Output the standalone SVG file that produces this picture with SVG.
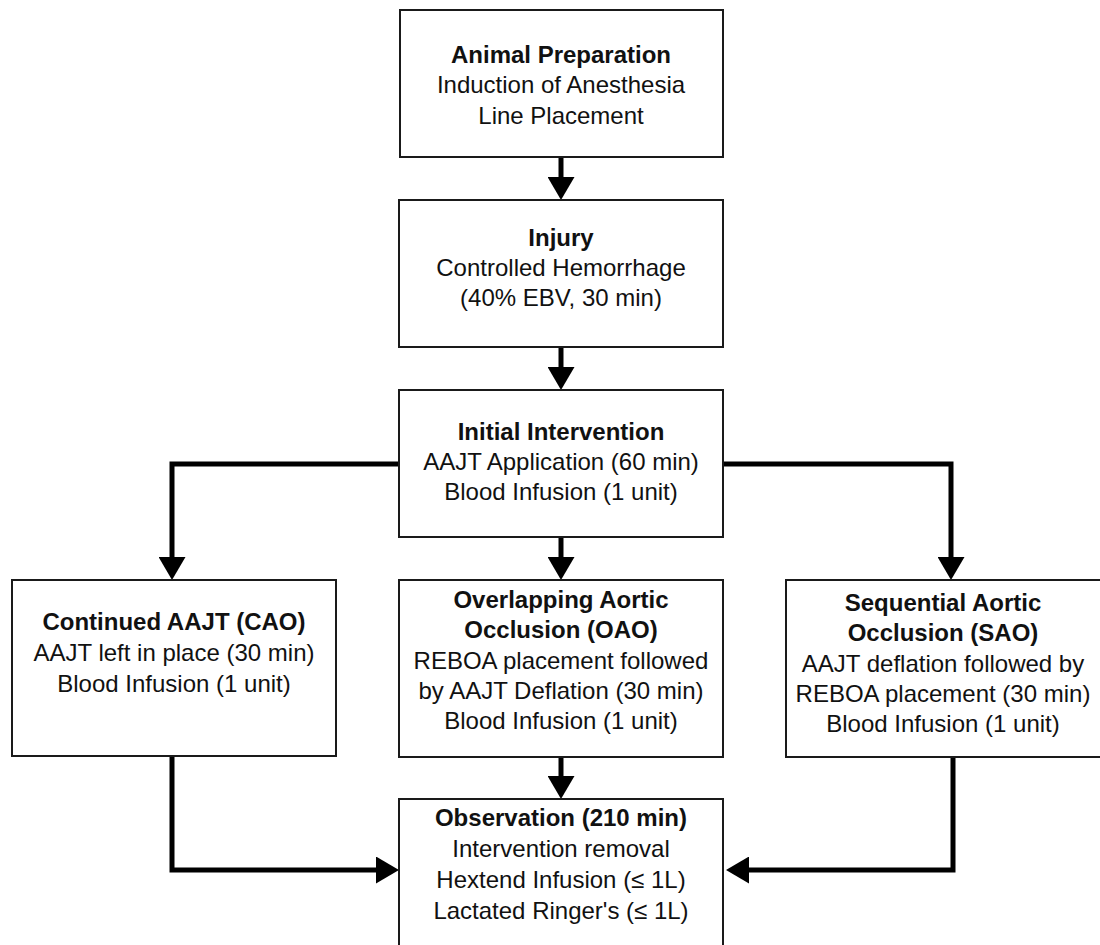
<svg xmlns="http://www.w3.org/2000/svg" width="1100" height="945" viewBox="0 0 1100 945">
<style>
.box{fill:#ffffff;stroke:#1a1a1a;stroke-width:2}
.t{font-family:"Liberation Sans",Arial,sans-serif;font-size:24px;fill:#111;text-anchor:middle}
.b{font-weight:bold}
.c{fill:none;stroke:#000;stroke-width:5;stroke-linejoin:miter}
</style>
<defs>
<marker id="ah" viewBox="0 0 23 27" refX="0" refY="13.5" markerWidth="23" markerHeight="27" markerUnits="userSpaceOnUse" orient="auto">
<path d="M0,0 L23,13.5 L0,27 z" fill="#000"/>
</marker>
</defs>
<rect width="1100" height="945" fill="#ffffff"/>
<g id="connectors">
<path class="c" d="M561,158 V177" marker-end="url(#ah)"/>
<path class="c" d="M561,348 V367" marker-end="url(#ah)"/>
<path class="c" d="M399,464 H172 V557" marker-end="url(#ah)"/>
<path class="c" d="M723,464 H951 V557" marker-end="url(#ah)"/>
<path class="c" d="M561,538 V557" marker-end="url(#ah)"/>
<path class="c" d="M172,757 V870 H376" marker-end="url(#ah)"/>
<path class="c" d="M953,758 V870 H749" marker-end="url(#ah)"/>
<path class="c" d="M561,758 V776" marker-end="url(#ah)"/>
</g>
<g id="node-prep">
<rect class="box" x="400" y="10" width="323" height="147"/>
<text class="t b" x="561" y="63">Animal Preparation</text>
<text class="t" x="561" y="93">Induction of Anesthesia</text>
<text class="t" x="561" y="124">Line Placement</text>
</g>
<g id="node-injury">
<rect class="box" x="399" y="200" width="324" height="147"/>
<text class="t b" x="561" y="246">Injury</text>
<text class="t" x="561" y="276">Controlled Hemorrhage</text>
<text class="t" x="561" y="306">(40% EBV, 30 min)</text>
</g>
<g id="node-initial">
<rect class="box" x="399" y="390" width="324" height="147"/>
<text class="t b" x="561" y="440">Initial Intervention</text>
<text class="t" x="561" y="470">AAJT Application (60 min)</text>
<text class="t" x="561" y="500">Blood Infusion (1 unit)</text>
</g>
<g id="node-cao">
<rect class="box" x="12" y="580" width="324" height="176"/>
<text class="t b" x="174" y="630">Continued AAJT (CAO)</text>
<text class="t" x="174" y="661">AAJT left in place (30 min)</text>
<text class="t" x="174" y="692">Blood Infusion (1 unit)</text>
</g>
<g id="node-oao">
<rect class="box" x="399" y="580" width="324" height="177"/>
<text class="t b" x="561" y="608">Overlapping Aortic</text>
<text class="t b" x="561" y="638">Occlusion (OAO)</text>
<text class="t" x="561" y="669">REBOA placement followed</text>
<text class="t" x="561" y="699">by AAJT Deflation (30 min)</text>
<text class="t" x="561" y="729">Blood Infusion (1 unit)</text>
</g>
<g id="node-sao">
<rect class="box" x="786" y="580" width="316" height="177"/>
<text class="t b" x="943" y="611">Sequential Aortic</text>
<text class="t b" x="943" y="641">Occlusion (SAO)</text>
<text class="t" x="943" y="672">AAJT deflation followed by</text>
<text class="t" x="943" y="702">REBOA placement (30 min)</text>
<text class="t" x="943" y="732">Blood Infusion (1 unit)</text>
</g>
<g id="node-observation">
<rect class="box" x="399" y="799" width="324" height="155"/>
<text class="t b" x="561" y="826">Observation (210 min)</text>
<text class="t" x="561" y="857">Intervention removal</text>
<text class="t" x="561" y="888">Hextend Infusion (≤ 1L)</text>
<text class="t" x="561" y="919">Lactated Ringer's (≤ 1L)</text>
</g>
</svg>
